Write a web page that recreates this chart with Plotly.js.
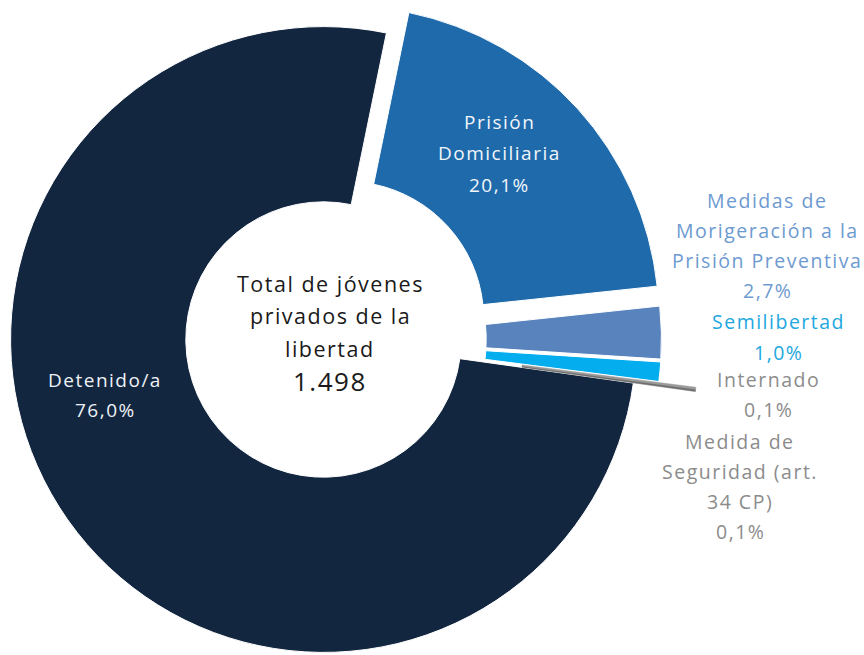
<!DOCTYPE html>
<html><head><meta charset="utf-8">
<script src="https://cdn.plot.ly/plotly-3.0.1.min.js"></script>
<style>
html,body{margin:0;padding:0;background:#fff;overflow:hidden;width:864px;height:655px;position:relative;}
#chart{position:absolute;left:-52px;top:-36px;width:916px;height:751px;}
text{letter-spacing:1.5px;}
</style>
</head><body><div id="chart"></div>
<script>
// ---- data ----
const categories = ['Detenido/a', 'Prisión Domiciliaria', 'Medidas de Morigeración a la Prisión Preventiva', 'Semilibertad', 'Internado', 'Medida de Seguridad (art. 34 CP)'];
const percentages = [76.0, 20.1, 2.7, 1.0, 0.1, 0.1];
const labelLines = [['Detenido/a'], ['Prisión', 'Domiciliaria'], ['Medidas de', 'Morigeración a la', 'Prisión Preventiva'], ['Semilibertad'], ['Internado'], ['Medida de', 'Seguridad (art.', '34 CP)']];
const centerTitle = ['Total de jóvenes', 'privados de la', 'libertad'];
const totalJovenes = 1498;

// ---- styling / layout ----
const sliceColors = ['#13263f', '#1f6aab', '#5883bd', '#03adee', '#9a9a9a', '#6f6f6f'];
const lineColors = ['#ffffff', '#ffffff', '#ffffff', '#ffffff', '#9a9a9a', '#6f6f6f'];
const lineWidths = [1, 1, 1, 1, 0.5, 0.5];
const pulls = [0, 0.097, 0.08, 0.08, 0.2, 0.2];
const labelColors = ['#eef2f7', '#f2f6fa', '#6d9ad0', '#22a8e0', '#8c8c8c', '#8c8c8c'];
const labelSizes = [19, 19, 19.5, 19.5, 19.5, 19.5];
// label line positions in window pixels: [x, firstLineY, gap]
const labelPos = [[105, 380, 30], [499, 122, 31.5], [767, 200, 30], [778, 321, 31], [768, 380, 30], [740, 441, 30]];

const OFFX = 52, OFFY = 36, W = 916, H = 751;
function px2paper(x, y) { return {x: (x + OFFX) / W, y: 1 - (y + OFFY) / H}; }
function fmtPct(v) { return v.toFixed(1).replace('.', ',') + '%'; }
function fmtThousands(n) { return String(n).replace(/\B(?=(\d{3})+(?!\d))/g, '.'); }

const FONT = '"Open Sans", "Noto Sans", sans-serif';
const annotations = [];
categories.forEach(function (c, i) {
  const lines = labelLines[i].concat([fmtPct(percentages[i])]);
  const p = labelPos[i];
  lines.forEach(function (t, j) {
    const q = px2paper(p[0], p[1] + j * p[2]);
    annotations.push({x: q.x, y: q.y, xref: 'paper', yref: 'paper', xanchor: 'center', yanchor: 'middle',
      text: t, showarrow: false, font: {family: FONT, size: labelSizes[i], color: labelColors[i]}});
  });
});
centerTitle.concat([fmtThousands(totalJovenes)]).forEach(function (t, j) {
  const q = px2paper(330, 283 + j * 32.5);
  const last = j === centerTitle.length;
  annotations.push({x: q.x, y: q.y, xref: 'paper', yref: 'paper', xanchor: 'center', yanchor: 'middle',
    text: t, showarrow: false, font: {family: FONT, size: last ? 26 : 21.5, color: '#1a1a1a'}});
});

const trace = {
  type: 'pie',
  labels: categories,
  values: percentages,
  hole: 0.44,
  sort: false,
  direction: 'clockwise',
  rotation: 98,
  pull: pulls,
  textinfo: 'none',
  hoverinfo: 'label+percent',
  marker: {colors: sliceColors, line: {color: lineColors, width: lineWidths}},
  domain: {x: [0, H / W], y: [0, 1]}
};

const layout = {
  width: W, height: H,
  margin: {l: 0, r: 0, t: 0, b: 0},
  paper_bgcolor: '#ffffff',
  showlegend: false,
  annotations: annotations,
  font: {family: FONT}
};

Plotly.newPlot('chart', [trace], layout, {displayModeBar: false, staticPlot: true});
</script>
</body></html>
